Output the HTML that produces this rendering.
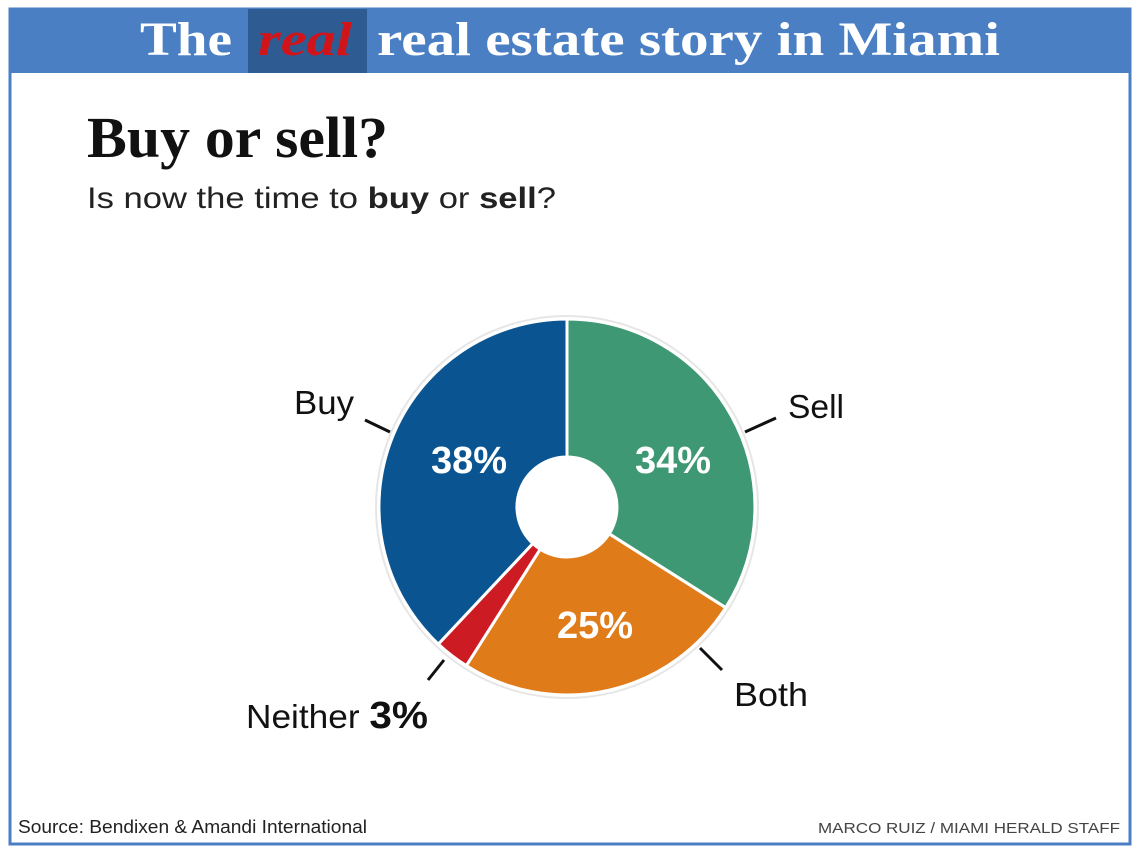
<!DOCTYPE html>
<html><head><meta charset="utf-8"><style>
body{margin:0;width:1140px;height:855px;background:#fff;overflow:hidden;font-family:"Liberation Sans",sans-serif}
</style></head><body>
<svg width="1140" height="855" xmlns="http://www.w3.org/2000/svg">
<rect x="0" y="0" width="1140" height="855" fill="#fff"/>
<rect x="10" y="9" width="1120" height="835" fill="#fff" stroke="#4a7fc4" stroke-width="3"/>
<rect x="10" y="9" width="1120" height="64" fill="#4a7fc4"/>
<rect x="248" y="9" width="119" height="64" fill="#2f5b93"/>
<g font-family="Liberation Serif,serif" font-weight="bold" font-size="48" fill="#fff">
<text x="140" y="55" textLength="92" lengthAdjust="spacingAndGlyphs">The</text>
<text x="258" y="55" textLength="94" lengthAdjust="spacingAndGlyphs" fill="#d0141a" font-style="italic">real</text>
<text x="377" y="55" textLength="623" lengthAdjust="spacingAndGlyphs">real estate story in Miami</text>
</g>
<text x="87" y="157" font-family="Liberation Serif,serif" font-weight="bold" font-size="58" fill="#111" textLength="301" lengthAdjust="spacingAndGlyphs">Buy or sell?</text>
<text x="87" y="208" font-size="30" fill="#222" textLength="469" lengthAdjust="spacingAndGlyphs">Is now the time to <tspan font-weight="bold">buy</tspan> or <tspan font-weight="bold">sell</tspan>?</text>
<circle cx="567" cy="507" r="192" fill="#e6e6e6"/>
<circle cx="567" cy="507" r="190" fill="#fff"/>
<g stroke="#fff" stroke-width="3" stroke-linejoin="round">
<path d="M567,319 A188,188 0 0 1 725.7,607.7 L609.2,533.8 A50,50 0 0 0 567,457 Z" fill="#3e9873"/>
<path d="M725.7,607.7 A188,188 0 0 1 466.3,665.7 L540.2,549.2 A50,50 0 0 0 609.2,533.8 Z" fill="#e07b1a"/>
<path d="M466.3,665.7 A188,188 0 0 1 438.3,644.1 L532.8,543.5 A50,50 0 0 0 540.2,549.2 Z" fill="#cc1b22"/>
<path d="M438.3,644.1 A188,188 0 0 1 567,319 L567,457 A50,50 0 0 0 532.8,543.5 Z" fill="#0a5591"/>
</g>
<g fill="#fff" font-weight="bold" font-size="38" text-anchor="middle">
<text x="469" y="473">38%</text>
<text x="673" y="473">34%</text>
<text x="595" y="638">25%</text>
</g>
<g stroke="#111" stroke-width="3">
<line x1="365" y1="420" x2="390" y2="432"/>
<line x1="745" y1="432" x2="776" y2="418"/>
<line x1="700" y1="648" x2="722" y2="670"/>
<line x1="444" y1="660" x2="428" y2="680"/>
</g>
<g fill="#111" font-size="33">
<text x="294" y="414" textLength="60" lengthAdjust="spacingAndGlyphs">Buy</text>
<text x="788" y="418" textLength="56" lengthAdjust="spacingAndGlyphs">Sell</text>
<text x="734" y="706" textLength="74" lengthAdjust="spacingAndGlyphs">Both</text>
<text x="246" y="728" textLength="182" lengthAdjust="spacingAndGlyphs">Neither <tspan font-weight="bold" font-size="38">3%</tspan></text>
</g>
<text x="18" y="833" font-size="18" fill="#222" textLength="349" lengthAdjust="spacingAndGlyphs">Source: Bendixen &amp; Amandi International</text>
<text x="818" y="833" font-size="15" fill="#444" textLength="302" lengthAdjust="spacingAndGlyphs">MARCO RUIZ / MIAMI HERALD STAFF</text>
</svg>
</body></html>
